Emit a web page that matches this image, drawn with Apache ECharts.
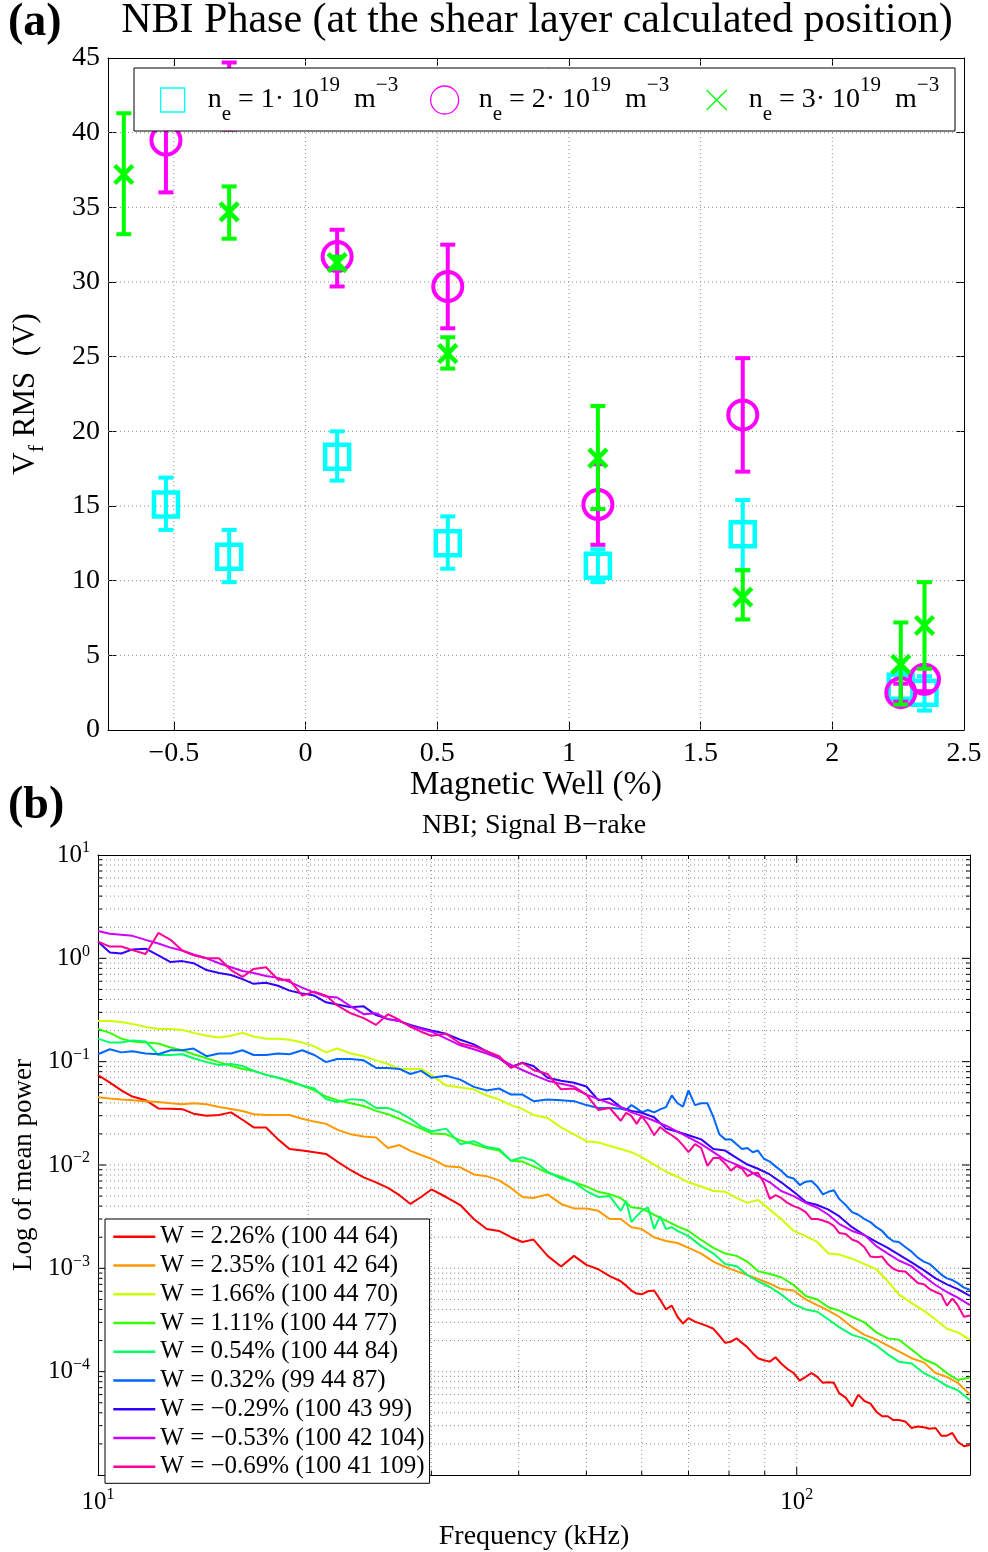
<!DOCTYPE html>
<html><head><meta charset="utf-8">
<script src="https://cdn.jsdelivr.net/npm/echarts@6/dist/echarts.min.js"></script>
<style>html,body{margin:0;padding:0;background:#fff}#c{width:988px;height:1552px}</style>
</head><body><div id="c"></div>
<script>
const FONT = '"Liberation Serif","Times New Roman",serif';

// ---------- (a) data ----------
const wellCyan = [-0.53, -0.29, 0.12, 0.54, 1.11, 1.66, 2.26, 2.35];
const vfCyan   = [15.1, 11.6, 18.3, 12.5, 11.0, 13.1, 2.9, 2.5];
const loCyan   = [13.4, 9.9, 16.7, 10.8, 9.9, 10.7, 1.9, 1.3];
const hiCyan   = [16.9, 13.4, 20.0, 14.3, 12.1, 15.4, 3.9, 3.6];

const wellMag = [-0.53, -0.29, 0.12, 0.54, 1.11, 1.66, 2.26, 2.35];
const vfMag   = [39.5, 42.4, 31.7, 29.7, 15.1, 21.1, 2.5, 3.4];
const loMag   = [36.0, 40.2, 29.7, 26.9, 12.4, 17.3, 1.9, 2.6];
const hiMag   = [43.0, 44.7, 33.5, 32.5, 17.8, 24.9, 3.1, 4.2];

const wellGrn = [-0.69, -0.29, 0.12, 0.54, 1.11, 1.66, 2.26, 2.35];
const vfGrn   = [37.2, 34.7, 31.3, 25.2, 18.2, 8.9, 4.4, 7.0];
const loGrn   = [33.2, 32.9, 30.9, 24.2, 14.8, 7.4, 1.7, 4.1];
const hiGrn   = [41.3, 36.4, 31.7, 26.3, 21.7, 10.7, 7.2, 9.9];

const densA = ['1', '2', '3'];
const xTicksA = [-0.5, 0, 0.5, 1, 1.5, 2, 2.5];
const xGridA = [-0.5, 0, 0.5, 1, 1.5, 2];
const yGridA = [5, 10, 15, 20, 25, 30, 35, 40];

// ---------- (b) data ----------
const freq = [10,10.4,10.8,11.2,11.7,12.2,12.7,13.2,13.7,14.3,14.9,15.5,16.1,16.7,17.4,18.1,18.8,19.6,20.4,21.2,
  22,23,24,25,26,27,28,29,30,31.5,33,34.5,36,37.5,39,40.5,42,44,46,48,50,52,54,56,58,60,62.5,65,67.5,70,
  73,76,79,82,85,88,91.5,95,99,103,107,111,115,120,125,130,135,140,146,152,158,164,170,177];
// extra frequencies read only on the noisiest traces
const freqMid = [57,59,61.25,63.75,66.25,68.75,71.5,74.5,77.5,80.5,83.5,86.5,89.75,93.25,97,101,105,109,113,117.5,
  122.5,127.5,132.5,137.5,143,149,155,161,167,173.5];

const pW226 = [0.0743,0.0627,0.0527,0.046,0.0424,0.0353,0.035,0.0347,0.0314,0.0299,
  0.0305,0.0323,0.0274,0.0231,0.0231,0.0177,0.0143,0.0138,0.0133,0.0128,
  0.0108,0.0089,0.0076,0.0068,0.006,0.0051,0.0042,0.0049,0.0058,0.0049,
  0.0041,0.003,0.0024,0.0023,0.002,0.0018,0.0019,0.00132,0.00104,0.00132,
  0.00108,0.00098,0.00084,0.00075,0.00061,0.00056,0.00061,0.0004,0.00034,0.00033,
  0.00029,0.00026,0.00019,0.00021,0.000172,0.000135,0.000125,0.00012,0.000097,0.000089,
  0.000089,0.000079,0.000062,0.000046,0.000052,0.000041,0.000037,0.000034,0.0000285,0.000029,
  0.0000285,0.000024,0.000021,0.0000195];
const pMidW226 = [0.00068,0.00057,0.0006,0.000499,0.000436,0.000292,0.000305,0.000276,0.000223,0.000195,
  0.00019,0.000151,0.000129,0.000138,0.000106,0.000082,0.000097,0.000078,0.000078,0.000056,
  0.00006,0.000049,0.000037,0.000034,0.000033,0.0000295,0.000028,0.000024,0.0000255,0.000019];
const pW235 = [0.0453,0.044,0.043,0.0424,0.0415,0.0406,0.0396,0.0388,0.0396,0.0388,
  0.0364,0.0348,0.0333,0.031,0.0305,0.0305,0.0305,0.028,0.0263,0.025,
  0.022,0.0198,0.0189,0.0185,0.0146,0.0156,0.0137,0.0125,0.0115,0.0097,
  0.0095,0.0081,0.0078,0.0071,0.006,0.0049,0.0048,0.0052,0.0042,0.0038,
  0.0038,0.0036,0.003,0.003,0.0025,0.0024,0.002,0.00184,0.00176,0.00158,
  0.00139,0.00116,0.00103,0.00094,0.00086,0.00079,0.00071,0.00063,0.00061,0.0005,
  0.00044,0.00039,0.00034,0.00027,0.000227,0.000204,0.000179,0.000157,0.000135,0.000123,
  0.000097,0.000089,0.000078,0.00006];
const pW166 = [0.247,0.247,0.242,0.232,0.217,0.207,0.207,0.203,0.19,0.178,
  0.171,0.178,0.19,0.175,0.167,0.167,0.163,0.153,0.1405,0.123,
  0.134,0.12,0.113,0.103,0.095,0.085,0.085,0.085,0.0745,0.0587,
  0.0563,0.054,0.047,0.043,0.038,0.0348,0.0305,0.0285,0.0231,0.0198,
  0.017,0.0165,0.0153,0.0143,0.0133,0.0119,0.0101,0.0086,0.0077,0.0068,
  0.0062,0.0056,0.0055,0.0048,0.0043,0.0046,0.0037,0.003,0.0023,0.00205,
  0.0018,0.00139,0.00136,0.00124,0.0011,0.00098,0.00075,0.00056,0.00046,0.00039,
  0.00032,0.00026,0.00024,0.000204];
const pW111 = [0.207,0.19,0.167,0.157,0.153,0.15,0.137,0.129,0.118,0.108,
  0.099,0.091,0.085,0.0815,0.0745,0.07,0.064,0.0587,0.0527,0.046,
  0.0424,0.0396,0.0372,0.0334,0.031,0.028,0.025,0.0225,0.0202,0.0198,
  0.0173,0.0159,0.0146,0.0138,0.011,0.0108,0.0097,0.0084,0.0077,0.0068,
  0.0062,0.0055,0.0052,0.0048,0.0039,0.0038,0.0033,0.0029,0.00255,0.0023,
  0.00188,0.00158,0.00139,0.00132,0.00116,0.00094,0.00088,0.00082,0.00069,0.00054,
  0.0005,0.00042,0.00039,0.00034,0.0003,0.00024,0.00021,0.000204,0.000164,0.000132,
  0.000118,0.000097,0.000083,0.000088];
const pW054 = [0.167,0.153,0.153,0.16,0.157,0.116,0.116,0.118,0.108,0.099,
  0.093,0.095,0.0908,0.0815,0.0745,0.07,0.0655,0.0587,0.055,0.0434,
  0.0406,0.0434,0.0424,0.0356,0.0356,0.0323,0.028,0.0235,0.0211,0.0225,
  0.0159,0.017,0.0149,0.0143,0.011,0.0119,0.011,0.0086,0.0074,0.0068,
  0.0056,0.0049,0.005,0.0036,0.0028,0.0036,0.0024,0.0024,0.0023,0.00205,
  0.00164,0.00139,0.0011,0.00105,0.00086,0.00075,0.00066,0.00056,0.00045,0.0004,
  0.00038,0.00032,0.00027,0.000227,0.000209,0.000179,0.000147,0.000125,0.00012,0.000097,
  0.000085,0.000073,0.000066,0.000053];
const pMidW054 = [0.0045,0.0032,0.0039,0.0032,0.0025,null,null,null,null,null,
  null,null,null,null,null,null,null,null,null,null,
  null,null,null,null,null,null,null,null,null,null];
const pW032 = [0.118,0.132,0.123,0.126,0.12,0.118,0.129,0.129,0.134,0.113,
  0.12,0.12,0.129,0.116,0.116,0.12,0.118,0.129,0.116,0.099,
  0.106,0.106,0.103,0.087,0.087,0.085,0.076,0.0815,0.07,0.073,
  0.067,0.057,0.0527,0.055,0.048,0.048,0.0415,0.043,0.0424,0.0415,
  0.038,0.0356,0.0356,0.035,0.038,0.0323,0.0323,0.0363,0.0396,0.0527,
  0.0396,0.029,0.0177,0.0159,0.0146,0.0138,0.0108,0.0088,0.0074,0.0069,
  0.0062,0.0055,0.0047,0.0035,0.003,0.0025,0.002,0.0018,0.00145,0.00116,
  0.00098,0.0008,0.00072,0.00062];
const pMidW032 = [0.0341,0.0353,0.0341,0.0345,0.0472,0.0368,0.038,0.0396,0.0198,0.0177,
  0.0143,0.0133,0.0115,0.0097,0.0077,0.0064,0.007,0.0052,0.0057,0.0041,
  0.0033,0.0028,0.0023,0.00183,0.00161,0.00127,0.0011,0.00087,0.00077,0.00065];
const pWm029 = [1.45,1.14,1.115,1.22,1.24,1.07,0.92,0.94,0.897,0.77,
  0.72,0.69,0.63,0.567,0.58,0.543,0.487,0.456,0.436,0.375,
  0.358,0.336,0.343,0.282,0.258,0.247,0.227,0.212,0.2,0.186,
  0.163,0.147,0.126,0.108,0.089,0.0975,0.0908,0.07,0.0655,0.0626,
  0.0575,0.0424,0.044,0.0363,0.0334,0.032,0.029,0.0225,0.021,0.0194,
  0.0177,0.01426,0.0138,0.0117,0.0101,0.0092,0.0081,0.0068,0.0055,0.0044,
  0.0041,0.0037,0.0032,0.0025,0.0021,0.0018,0.00158,0.00136,0.00114,0.00096,
  0.0008,0.0007,0.00063,0.00054];
const pWm053 = [1.84,1.73,1.69,1.65,1.51,1.39,1.27,1.19,1.09,1.0,
  0.897,0.82,0.753,0.721,0.675,0.647,0.592,0.52,0.466,0.427,
  0.418,0.343,0.288,0.294,0.258,0.247,0.222,0.207,0.195,0.167,
  0.144,0.132,0.12,0.108,0.093,0.083,0.0745,0.0655,0.061,0.0575,
  0.048,0.0434,0.0396,0.0363,0.0323,0.0299,0.0268,0.024,0.021,0.0185,
  0.0159,0.0133,0.0112,0.0101,0.009,0.0078,0.0068,0.0056,0.005,0.0043,
  0.00386,0.0033,0.0027,0.0023,0.0021,0.00164,0.00139,0.00119,0.00105,0.00084,
  0.00069,0.00059,0.00052,0.00044];
const pWm069 = [1.45,1.3,1.3,1.2,1.1,1.76,1.51,1.19,1.07,1.0,
  1.0,0.77,0.66,0.79,0.82,0.62,0.62,0.436,0.476,0.436,
  0.35,0.294,0.264,0.227,0.288,0.253,0.217,0.195,0.178,0.186,
  0.15,0.1405,0.126,0.113,0.087,0.0975,0.083,0.076,0.054,0.055,
  0.048,0.0341,0.0356,0.0268,0.0299,0.0299,0.0194,0.021,0.0177,0.0133,
  0.0146,0.0117,0.0103,0.0098,0.0078,0.0084,0.0047,0.0048,0.004,0.0035,
  0.003,0.00278,0.0022,0.0019,0.0016,0.00128,0.0011,0.00094,0.00082,0.0007,
  0.00059,0.000436,0.00044,0.00035];
const pMidWm069 = [0.032,0.025,0.0246,0.0233,0.0194,0.0155,0.0159,0.0098,0.0117,0.0088,
  0.0092,0.0083,0.0067,0.0051,0.0043,0.0038,0.003,0.0029,0.00258,0.00215,
  0.0018,0.0013,0.0013,0.00099,0.00093,0.00072,0.00063,0.00056,0.00051,0.00034];

const legendB = ['W = 2.26% (100 44 64)', 'W = 2.35% (101 42 64)', 'W = 1.66% (100 44 70)',
  'W = 1.11% (100 44 77)', 'W = 0.54% (100 44 84)', 'W = 0.32% (99 44 87)',
  'W = \u22120.29% (100 43 99)', 'W = \u22120.53% (100 42 104)', 'W = \u22120.69% (100 41 109)'];
const powerB = [pW226, pW235, pW166, pW111, pW054, pW032, pWm029, pWm053, pWm069];
const powerMidB = [pMidW226, null, null, null, pMidW054, pMidW032, null, null, pMidWm069];
const colorsB = ['#ff0000', '#ff9900', '#ccff00', '#33ff00', '#00ff66', '#0066ff', '#3300ff', '#cc00ff', '#ff0099'];

const xMinB = 10, xMaxB = 177, yMinB = 1e-5, yMaxB = 10;
const xGridB = [], yGridB = [];
for (let k = 2; k <= 10; k++) xGridB.push([k * 10, k === 10 ? 1 : 0]);
for (let d = -5; d <= 0; d++) for (let k = 1; k <= 9; k++) {
  if (d === -5 && k === 1) continue;
  yGridB.push([k * Math.pow(10, d), k === 1 ? 1 : 0]);
}

// ---------- helpers ----------
const GRIDCOL = '#8c8c8c';
const dotStyle = { stroke: GRIDCOL, lineWidth: 1, lineDash: [1, 3] };

function errRender(shape, color) {
  return function (params, api) {
    const x = api.value(0), y = api.value(1), lo = api.value(2), hi = api.value(3);
    const p = api.coord([x, y]), pl = api.coord([x, lo]), ph = api.coord([x, hi]);
    const cw = 7.5;
    const st = { stroke: color, lineWidth: 4, fill: 'none' };
    const ch = [
      { type: 'line', shape: { x1: p[0], y1: pl[1], x2: p[0], y2: ph[1] }, style: st },
      { type: 'line', shape: { x1: p[0] - cw, y1: pl[1], x2: p[0] + cw, y2: pl[1] }, style: st },
      { type: 'line', shape: { x1: p[0] - cw, y1: ph[1], x2: p[0] + cw, y2: ph[1] }, style: st }
    ];
    if (shape === 'square') {
      ch.push({ type: 'rect', shape: { x: p[0] - 12, y: p[1] - 12, width: 24, height: 24 }, style: { stroke: color, lineWidth: 4.5, fill: 'none' } });
    } else if (shape === 'circle') {
      ch.push({ type: 'circle', shape: { cx: p[0], cy: p[1], r: 14.5 }, style: { stroke: color, lineWidth: 4, fill: 'none' } });
    } else {
      const h = 9;
      ch.push({ type: 'line', shape: { x1: p[0] - h, y1: p[1] - h, x2: p[0] + h, y2: p[1] + h }, style: { stroke: color, lineWidth: 4.5 } });
      ch.push({ type: 'line', shape: { x1: p[0] - h, y1: p[1] + h, x2: p[0] + h, y2: p[1] - h }, style: { stroke: color, lineWidth: 4.5 } });
    }
    return { type: 'group', children: ch };
  };
}
function errSeries(name, xs, ys, lo, hi, color, shape) {
  return {
    type: 'custom', name: name, xAxisIndex: 0, yAxisIndex: 0, clip: true, z: 2,
    data: xs.map((x, i) => [x, ys[i], lo[i], hi[i]]),
    encode: { x: 0, y: 1 },
    itemStyle: { color: color },
    renderItem: errRender(shape, color)
  };
}
const namesA = densA.map(d => 'n_e = ' + d + '\u00b710^19 m^-3');
function legFmtA(idx) {
  return function () {
    return '{n|n}{sub|e}{t| = ' + densA[idx] + '\u00b7 10}{sup|19}{t|  m}{sup|\u22123}';
  };
}
function richA(pad) {
  return {
    n: { fontSize: 28, fontFamily: FONT, color: '#000', lineHeight: 50, padding: [0, 0, 0, pad] },
    t: { fontSize: 28, fontFamily: FONT, color: '#000', lineHeight: 50 },
    sub: { fontSize: 21, fontFamily: FONT, color: '#000', lineHeight: 12, verticalAlign: 'bottom' },
    sup: { fontSize: 21, fontFamily: FONT, color: '#000', lineHeight: 20, verticalAlign: 'top' }
  };
}
function pow10Label(v, hideMin) {
  const lv = Math.log10(v);
  const e = Math.round(lv);
  if (Math.abs(lv - e) > 1e-6) return '';
  if (hideMin !== undefined && e <= hideMin) return '';
  return '{b|10}{s|' + (e < 0 ? '\u2212' + (-e) : e) + '}';
}
const richB = {
  b: { fontSize: 25, fontFamily: FONT, color: '#000', lineHeight: 30 },
  s: { fontSize: 16, fontFamily: FONT, color: '#000', lineHeight: 14, verticalAlign: 'top' }
};
const fmtMinus = v => (v < 0 ? '\u2212' + Math.abs(v) : String(v));

const axisLineBlack = { show: true, onZero: false, lineStyle: { color: '#000', width: 1 } };

// grid lines (a)
const gridSeriesA = [
  {
    type: 'custom', xAxisIndex: 0, yAxisIndex: 0, z: 1, silent: true,
    data: xGridA.map(v => [v, 20]),
    renderItem: (params, api) => {
      const v = api.value(0); const a = api.coord([v, 0]), b = api.coord([v, 45]);
      return { type: 'line', shape: { x1: a[0], y1: a[1], x2: b[0], y2: b[1] }, style: dotStyle };
    }
  },
  {
    type: 'custom', xAxisIndex: 0, yAxisIndex: 0, z: 1, silent: true,
    data: yGridA.map(v => [1, v]),
    renderItem: (params, api) => {
      const v = api.value(1); const a = api.coord([-0.75, v]), b = api.coord([2.5, v]);
      return { type: 'line', shape: { x1: a[0], y1: a[1], x2: b[0], y2: b[1] }, style: dotStyle };
    }
  }
];
// grid lines + ticks (b)
const gridSeriesB = [
  {
    type: 'custom', xAxisIndex: 2, yAxisIndex: 2, z: 1, silent: true,
    data: xGridB.map(g => [g[0], 1, g[1]]),
    renderItem: (params, api) => {
      const v = api.value(0), major = api.value(2) === 1, L = major ? 8 : 4;
      const a = api.coord([v, yMinB]), b = api.coord([v, yMaxB]);
      return { type: 'group', children: [
        { type: 'line', shape: { x1: a[0], y1: a[1], x2: b[0], y2: b[1] }, style: dotStyle },
        { type: 'line', shape: { x1: a[0], y1: a[1], x2: a[0], y2: a[1] - L }, style: { stroke: '#000', lineWidth: 1 } },
        { type: 'line', shape: { x1: b[0], y1: b[1], x2: b[0], y2: b[1] + L }, style: { stroke: '#000', lineWidth: 1 } }
      ] };
    }
  },
  {
    type: 'custom', xAxisIndex: 2, yAxisIndex: 2, z: 1, silent: true,
    data: yGridB.map(g => [20, g[0], g[1]]),
    renderItem: (params, api) => {
      const v = api.value(1), major = api.value(2) === 1, L = major ? 8 : 4;
      const a = api.coord([xMinB, v]), b = api.coord([xMaxB, v]);
      return { type: 'group', children: [
        { type: 'line', shape: { x1: a[0], y1: a[1], x2: b[0], y2: b[1] }, style: dotStyle },
        { type: 'line', shape: { x1: a[0], y1: a[1], x2: a[0] + L, y2: a[1] }, style: { stroke: '#000', lineWidth: 1 } },
        { type: 'line', shape: { x1: b[0], y1: b[1], x2: b[0] - L, y2: b[1] }, style: { stroke: '#000', lineWidth: 1 } }
      ] };
    }
  }
];

function buildTrace(i) {
  const pts = freq.map((f, j) => [f, powerB[i][j]]);
  const mid = powerMidB[i];
  if (mid) freqMid.forEach((f, k) => { if (mid[k] != null) pts.push([f, mid[k]]); });
  pts.sort((a, b) => a[0] - b[0]);
  return pts;
}
const lineSeriesB = legendB.map((name, i) => ({
  type: 'line', name: name, xAxisIndex: 2, yAxisIndex: 2, z: 2,
  data: buildTrace(i),
  symbol: 'none', showSymbol: false, clip: true,
  lineStyle: { color: colorsB[i], width: 2 },
  itemStyle: { color: colorsB[i] }
}));

const legIconsA = [
  { left: 160, icon: 'rect', w: 24, col: '#00ffff', pad: 18 },
  { left: 430, icon: 'circle', w: 28, col: '#ff00ff', pad: 15 },
  { left: 706, icon: 'path://M0,0L10,10M10,0L0,10', w: 20, col: '#00ff00', pad: 17 }
];

function txt(text, x, y, size, weight, align) {
  return { type: 'text', z: 10, x: x, y: y,
    style: { text: text, font: (weight || 'normal') + ' ' + size + 'px ' + FONT, fill: '#000',
      textAlign: align || 'left', align: align || 'left', textVerticalAlign: 'middle', verticalAlign: 'middle' } };
}

const option = {
  animation: false,
  backgroundColor: '#fff',
  textStyle: { fontFamily: FONT },
  grid: [
    { left: 108, top: 58, width: 856, height: 672, containLabel: false },
    { left: 98, top: 855, width: 872, height: 634, containLabel: false }
  ],
  xAxis: [
    { gridIndex: 0, type: 'value', min: -0.75, max: 2.5, position: 'bottom',
      axisLine: axisLineBlack, splitLine: { show: false },
      axisTick: { show: true, inside: true, length: 8, customValues: xTicksA, lineStyle: { color: '#000' } },
      axisLabel: { show: true, customValues: xTicksA, formatter: fmtMinus, fontSize: 28, fontFamily: FONT, color: '#000', margin: 10 },
      name: 'Magnetic Well (%)', nameLocation: 'middle', nameGap: 38,
      nameTextStyle: { fontSize: 33, fontFamily: FONT, color: '#000' } },
    { gridIndex: 0, type: 'value', min: -0.75, max: 2.5, position: 'top',
      axisLine: axisLineBlack, splitLine: { show: false },
      axisTick: { show: true, inside: true, length: 8, customValues: xTicksA, lineStyle: { color: '#000' } },
      axisLabel: { show: false } },
    { gridIndex: 1, type: 'log', logBase: 10, min: xMinB, max: xMaxB, position: 'bottom',
      axisLine: axisLineBlack, splitLine: { show: false }, axisTick: { show: false },
      axisLabel: { formatter: v => pow10Label(v), rich: richB, margin: 12, showMaxLabel: false },
      name: 'Frequency (kHz)', nameLocation: 'middle', nameGap: 48,
      nameTextStyle: { fontSize: 28, fontFamily: FONT, color: '#000' } },
    { gridIndex: 1, type: 'log', logBase: 10, min: xMinB, max: xMaxB, position: 'top',
      axisLine: axisLineBlack, splitLine: { show: false }, axisTick: { show: false }, axisLabel: { show: false } }
  ],
  yAxis: [
    { gridIndex: 0, type: 'value', min: 0, max: 45, interval: 5, position: 'left',
      axisLine: axisLineBlack, splitLine: { show: false },
      axisTick: { show: true, inside: true, length: 8, lineStyle: { color: '#000' } },
      axisLabel: { fontSize: 28, fontFamily: FONT, color: '#000', margin: 8 },
      name: '{v|V}{sub|f}{t| RMS  (V)}', nameLocation: 'middle', nameGap: 60,
      nameTextStyle: { rich: {
        v: { fontSize: 31, fontFamily: FONT, color: '#000', lineHeight: 44 },
        t: { fontSize: 31, fontFamily: FONT, color: '#000', lineHeight: 44 },
        sub: { fontSize: 22, fontFamily: FONT, color: '#000', lineHeight: 14, verticalAlign: 'bottom' } } } },
    { gridIndex: 0, type: 'value', min: 0, max: 45, interval: 5, position: 'right',
      axisLine: axisLineBlack, splitLine: { show: false },
      axisTick: { show: true, inside: true, length: 8, lineStyle: { color: '#000' } },
      axisLabel: { show: false } },
    { gridIndex: 1, type: 'log', logBase: 10, min: yMinB, max: yMaxB, position: 'left',
      axisLine: axisLineBlack, splitLine: { show: false }, axisTick: { show: false },
      axisLabel: { formatter: v => pow10Label(v, -5), rich: richB, margin: 8 },
      name: 'Log of mean power', nameLocation: 'middle', nameGap: 50,
      nameTextStyle: { fontSize: 27, fontFamily: FONT, color: '#000' } },
    { gridIndex: 1, type: 'log', logBase: 10, min: yMinB, max: yMaxB, position: 'right',
      axisLine: axisLineBlack, splitLine: { show: false }, axisTick: { show: false }, axisLabel: { show: false } }
  ],
  legend: legIconsA.map((l, i) => ({
    data: [namesA[i]], left: l.left, top: 75, padding: 0, selectedMode: false,
    itemWidth: l.w, itemHeight: l.w, icon: l.icon,
    itemStyle: { color: 'rgba(0,0,0,0)', borderColor: l.col, borderWidth: 1.3 },
    formatter: legFmtA(i), textStyle: { rich: richA(l.pad) }
  })).concat([{
    data: legendB, orient: 'vertical', left: 105, top: 1219, selectedMode: false,
    icon: 'rect', itemWidth: 42, itemHeight: 2.5, itemGap: 2.75,
    padding: [4.7, 5, 3.6, 8.3],
    backgroundColor: '#fff', borderColor: '#000', borderWidth: 1,
    textStyle: { fontSize: 25, fontFamily: FONT, color: '#000', lineHeight: 26 }
  }]),
  graphic: [
    { type: 'rect', z: 3, shape: { x: 134, y: 68, width: 821, height: 63 }, style: { fill: '#fff', stroke: '#000', lineWidth: 1 } },
    txt('(a)', 8, 23, 46, 'bold'),
    txt('NBI Phase (at the shear layer calculated position)', 537, 21, 42, 'normal', 'center'),
    txt('(b)', 8, 806, 46, 'bold'),
    txt('NBI; Signal B\u2212rake', 534, 826, 28, 'normal', 'center')
  ],
  series: gridSeriesA.concat([
    errSeries(namesA[0], wellCyan, vfCyan, loCyan, hiCyan, '#00ffff', 'square'),
    errSeries(namesA[1], wellMag, vfMag, loMag, hiMag, '#ff00ff', 'circle'),
    errSeries(namesA[2], wellGrn, vfGrn, loGrn, hiGrn, '#00ff00', 'cross')
  ]).concat(gridSeriesB).concat(lineSeriesB)
};

const chart = echarts.init(document.getElementById('c'), null, { renderer: 'canvas' });
chart.setOption(option);
</script>
</body></html>
